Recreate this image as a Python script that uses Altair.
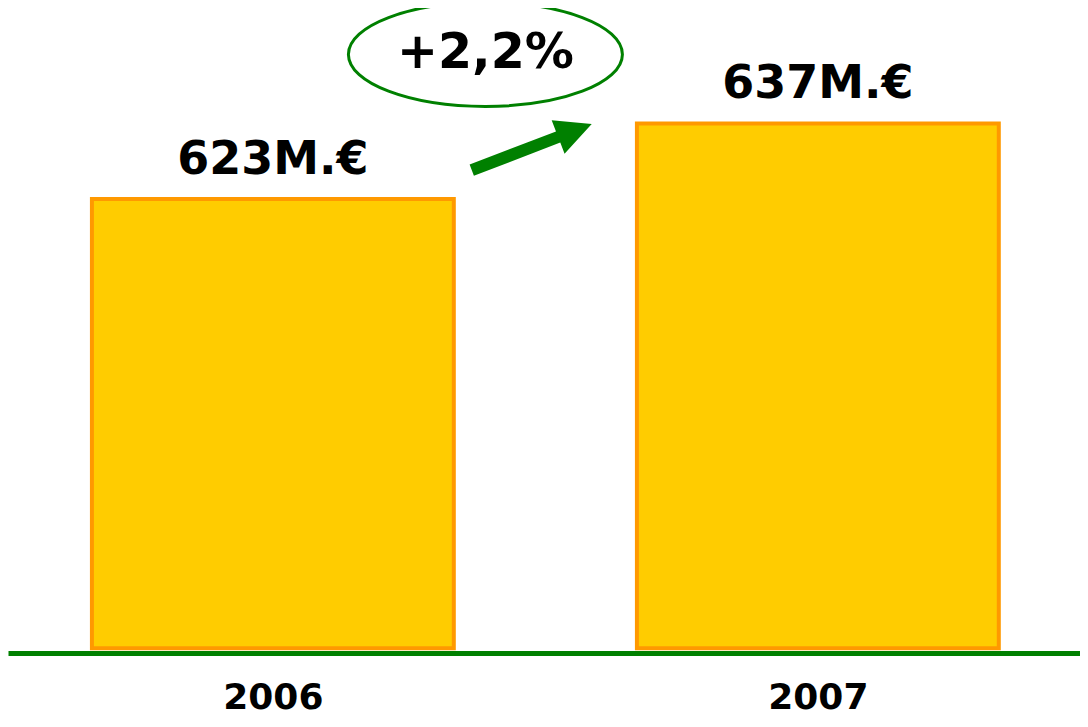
import altair as alt
import pandas as pd

# ---- data ----
years = [2006, 2007]
revenue = [623, 637]
growth_label = ["+2,2%"]
growth_x = [2006.39]
growth_y = [649.8]
arrow_x = [2006.475]
arrow_y = [632.6]

bars_df = pd.DataFrame({"year": years, "value": revenue})
ann_df = pd.DataFrame({"label": growth_label, "x": growth_x, "y": growth_y})
arrow_df = pd.DataFrame({"x": arrow_x, "y": arrow_y})

X_DOMAIN = [2005.514, 2007.481]
Y_DOMAIN = [538.8, 658.4]
BASE = 539.7
GREEN = "#008000"
FONT = "DejaVu Sans"

ELLIPSE_PATH = "M-1,0 A1,0.38 0 1,1 1,0 A1,0.38 0 1,1 -1,0 Z"
ARROW_PATH = ("M-1,-0.093 L0.44,-0.093 L0.44,-0.28 L1,0 L0.44,0.28 "
              "L0.44,0.093 L-1,0.093 Z")

xscale = alt.Scale(domain=X_DOMAIN, nice=False, zero=False)
yscale = alt.Scale(domain=Y_DOMAIN, nice=False, zero=False)

base = alt.Chart(bars_df).transform_calculate(
    x0="datum.year - 0.332",
    x1="datum.year + 0.332",
    label="datum.value + 'M.€'",
)

bars = base.mark_bar(fill="#FFCC00", stroke="#FF9900", strokeWidth=4).encode(
    x=alt.X(
        "x0:Q",
        scale=xscale,
        axis=alt.Axis(
            values=years,
            format="d",
            title=None,
            grid=False,
            ticks=False,
            domainColor=GREEN,
            domainWidth=5,
            labelFont=FONT,
            labelFontSize=36,
            labelFontWeight="bold",
            labelColor="black",
            labelPadding=55,
            labelBaseline="alphabetic",
            labelFlush=False,
            labelOverlap=False,
            zindex=1,
        ),
    ),
    x2="x1:Q",
    y=alt.Y("value:Q", scale=yscale, axis=None),
    y2=alt.datum(BASE),
)

value_labels = base.mark_text(
    dy=-25, baseline="alphabetic", align="center", fontSize=46,
    font=FONT, fontWeight="bold", color="black",
).encode(x="year:Q", y="value:Q", text="label:N")

ellipse = alt.Chart(ann_df).mark_point(
    shape=ELLIPSE_PATH, size=75076, filled=False, stroke=GREEN,
    strokeWidth=3, opacity=1,
).encode(x="x:Q", y="y:Q")

growth_text = alt.Chart(ann_df).mark_text(
    dy=14, baseline="alphabetic", align="center", fontSize=49,
    font=FONT, fontWeight="bold", color="black",
).encode(x="x:Q", y="y:Q", text="label:N")

arrow = alt.Chart(arrow_df).mark_point(
    shape=ARROW_PATH, size=16512, filled=True, fill=GREEN,
    strokeWidth=0, opacity=1, angle=339,
).encode(x="x:Q", y="y:Q")

chart = alt.layer(bars, value_labels, ellipse, growth_text, arrow).properties(
    width=1072,
    height=645,
    padding={"left": 0, "top": 0, "right": 0, "bottom": 65},
    autosize="none",
).configure_view(stroke=None)

chart.save("out.html", embed_options={"renderer": "svg", "actions": False})
